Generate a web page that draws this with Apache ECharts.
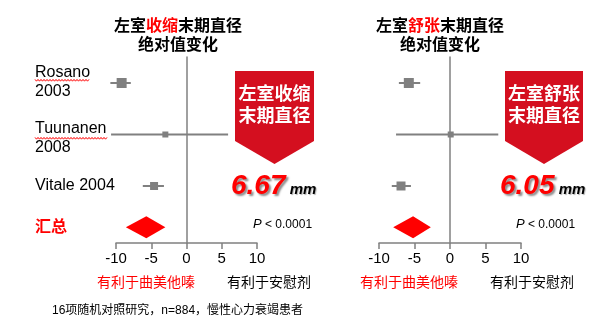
<!DOCTYPE html>
<html>
<head>
<meta charset="utf-8">
<script src="https://cdn.jsdelivr.net/npm/echarts@6/dist/echarts.min.js"></script>
<style>
  html, body { margin: 0; padding: 0; background: #fff; }
  #main { width: 610px; height: 318px; }
</style>
</head>
<body>
<div id="main"></div>
<script>
// studies shown in both panels
var studies = ['Rosano\n2003', 'Tuunanen\n2008', 'Vitale 2004'];
var summaryName = '汇总';
var xTicks = [-10, -5, 0, 5, 10];

// 收缩末期直径 (ESD): estimate, lower, upper, weight
var esdEst = [-9.2, -3.0, -4.6];
var esdLo = [-10.8, -10.7, -6.2];
var esdHi = [-7.9, 5.9, -3.2];
var esdWeight = [10, 6, 8];
var esdSummary = [-8.6, -5.7, -3.0]; // lo, est, hi
var esdDiff = '6.67';

// 舒张末期直径 (EDD)
var edvEst = [-5.8, 0.1, -6.9];
var edvLo = [-7.2, -7.6, -8.2];
var edvHi = [-4.2, 6.8, -5.5];
var edvWeight = [10, 6, 9];
var edvSummary = [-8.0, -5.2, -2.7];
var edvDiff = '6.05';

var GRAY = '#808080';
var RED = '#ff0000';
var BANNER = '#d40f1f';
var FONT = '"Liberation Sans", Arial, "Noto Sans CJK SC", sans-serif';
// summary row sits a little closer to the last study
var SUM_ROW = studies.length - 0.2;
// small nudges for the left-hand labels
var labelNudge = [-1, 4, 0, 0];

var chart = echarts.init(document.getElementById('main'));

function studyData(est, lo, hi, w) {
	return est.map(function(v, i) { return [v, i, lo[i], hi[i], w[i]]; });
}

function renderStudy(params, api) {
	var p = api.coord([api.value(0), api.value(1)]);
	var lo = api.coord([api.value(2), api.value(1)]);
	var hi = api.coord([api.value(3), api.value(1)]);
	var s = api.value(4);
	return {
		type: 'group',
		children: [
			{ type: 'line', shape: { x1: lo[0], y1: p[1], x2: hi[0], y2: p[1] }, style: { stroke: GRAY, lineWidth: 2 } },
			{ type: 'rect', shape: { x: p[0] - s / 2, y: p[1] - s / 2, width: s, height: s }, style: { fill: GRAY } }
		]
	};
}

function renderDiamond(params, api) {
	var c = api.coord([api.value(1), api.value(3)]);
	var lo = api.coord([api.value(0), api.value(3)]);
	var hi = api.coord([api.value(2), api.value(3)]);
	var h = 11;
	return {
		type: 'polygon',
		shape: { points: [[lo[0], c[1]], [c[0], c[1] - h], [hi[0], c[1]], [c[0], c[1] + h]] },
		style: { fill: RED }
	};
}

// row labels on the left (only for first panel)
function renderLabel(params, api) {
	var p = api.coord([0, api.value(0)]);
	var isSum = params.dataIndex === studies.length;
	return {
		type: 'text',
		x: 35,
		y: p[1] + labelNudge[params.dataIndex],
		style: {
			text: isSum ? summaryName : studies[params.dataIndex],
			fill: isSum ? RED : '#000',
			font: (isSum ? 'bold ' : '') + '16px ' + FONT,
			lineHeight: 19,
			verticalAlign: 'middle',
			align: 'left'
		}
	};
}

function makeAxes(idx) {
	return {
		x: {
			type: 'value', gridIndex: idx, min: -10, max: 10, interval: 5,
			axisLine: { onZero: false, lineStyle: { color: GRAY, width: 1.5 } },
			axisTick: { length: 6, lineStyle: { color: GRAY, width: 1.5 } },
			splitLine: { show: false },
			axisLabel: { color: '#000', fontSize: 15, fontFamily: FONT, margin: 8 }
		},
		y: {
			type: 'value', gridIndex: idx, inverse: true, min: -0.505, max: 3.107,
			axisLine: { show: true, onZero: true, lineStyle: { color: GRAY, width: 1.5 } },
			axisTick: { show: false },
			axisLabel: { show: false },
			splitLine: { show: false }
		}
	};
}

var a0 = makeAxes(0), a1 = makeAxes(1);

function zigzag(x0, x1, y) {
	var pts = [];
	for (var x = x0, k = 0; x <= x1; x += 1.5, k++) pts.push([x, y + (k % 2 ? 1.2 : -0.6)]);
	return pts;
}

function bigNumber(x, val) {
	return {
		type: 'text', left: x, top: 172,
		style: {
			text: '{n|' + val + '}{u| mm}',
			rich: {
				n: { font: 'italic bold 28px ' + FONT, fill: RED, textShadowColor: 'rgba(0,0,0,0.45)', textShadowOffsetX: 2, textShadowOffsetY: 2, textShadowBlur: 2, verticalAlign: 'bottom' },
				u: { font: 'italic bold 15px ' + FONT, fill: '#000', textShadowColor: 'rgba(0,0,0,0.3)', textShadowOffsetX: 1, textShadowOffsetY: 1, textShadowBlur: 1, verticalAlign: 'bottom', padding: [0, 0, 3, 0] }
			}
		}
	};
}

function banner(x0, x1, line1) {
	var cx = (x0 + x1) / 2;
	return [
		{ type: 'polygon', shape: { points: [[x0, 71], [x1, 71], [x1, 141], [cx, 164], [x0, 141]] }, style: { fill: BANNER } },
		{ type: 'text', x: cx, y: 106, style: { text: line1 + '\n末期直径', fill: '#fff', font: 'bold 18px ' + FONT, lineHeight: 22, align: 'center', verticalAlign: 'middle' } }
	];
}

function pText(x) {
	return {
		type: 'text', left: x, top: 218,
		style: { text: '{i|P}{n| < 0.0001}', rich: { i: { font: 'italic 13px ' + FONT, fill: '#000' }, n: { font: '12px ' + FONT, fill: '#000' } } }
	};
}

var titleRich = {
	b: { fontSize: 16, fontWeight: 'bold', color: '#000', fontFamily: FONT, lineHeight: 19 },
	r: { fontSize: 16, fontWeight: 'bold', color: RED, fontFamily: FONT, lineHeight: 19 }
};

var option = {
	animation: false,
	title: [
		{ text: '{b|左室}{r|收缩}{b|末期直径}\n{b|绝对值变化}', left: 173, top: 12, textAlign: 'center', textStyle: { rich: titleRich } },
		{ text: '{b|左室}{r|舒张}{b|末期直径}\n{b|绝对值变化}', left: 435, top: 12, textAlign: 'center', textStyle: { rich: titleRich } }
	],
	grid: [
		{ left: 116, width: 141, top: 57, height: 186 },
		{ left: 379, width: 142, top: 57, height: 186 }
	],
	xAxis: [a0.x, a1.x],
	yAxis: [a0.y, a1.y],
	series: [
		{ type: 'custom', xAxisIndex: 0, yAxisIndex: 0, renderItem: renderStudy, data: studyData(esdEst, esdLo, esdHi, esdWeight) },
		{ type: 'custom', xAxisIndex: 0, yAxisIndex: 0, renderItem: renderDiamond, data: [esdSummary.concat([SUM_ROW])] },
		{ type: 'custom', xAxisIndex: 0, yAxisIndex: 0, renderItem: renderLabel, data: studies.map(function(s, i) { return [i]; }).concat([[SUM_ROW]]) },
		{ type: 'custom', xAxisIndex: 1, yAxisIndex: 1, renderItem: renderStudy, data: studyData(edvEst, edvLo, edvHi, edvWeight) },
		{ type: 'custom', xAxisIndex: 1, yAxisIndex: 1, renderItem: renderDiamond, data: [edvSummary.concat([SUM_ROW])] }
	],
	graphic: [].concat(
		banner(235, 314, '左室收缩'),
		banner(505, 583, '左室舒张'),
		[
			bigNumber(231, esdDiff),
			bigNumber(500, edvDiff),
			pText(253),
			pText(516),
			{ type: 'polyline', shape: { points: zigzag(35, 90, 80) }, style: { stroke: RED, lineWidth: 1, fill: null } },
			{ type: 'polyline', shape: { points: zigzag(35, 107, 138) }, style: { stroke: RED, lineWidth: 1, fill: null } },
			{ type: 'text', left: 97, top: 276, style: { text: '有利于曲美他嗪', fill: RED, font: '14px ' + FONT } },
			{ type: 'text', left: 227, top: 276, style: { text: '有利于安慰剂', fill: '#000', font: '14px ' + FONT } },
			{ type: 'text', left: 360, top: 276, style: { text: '有利于曲美他嗪', fill: RED, font: '14px ' + FONT } },
			{ type: 'text', left: 490, top: 276, style: { text: '有利于安慰剂', fill: '#000', font: '14px ' + FONT } },
			{ type: 'text', left: 52, top: 305, style: { text: '16项随机对照研究，n=884，慢性心力衰竭患者', fill: '#000', font: '12px ' + FONT } }
		]
	)
};

chart.setOption(option);
</script>
</body>
</html>
